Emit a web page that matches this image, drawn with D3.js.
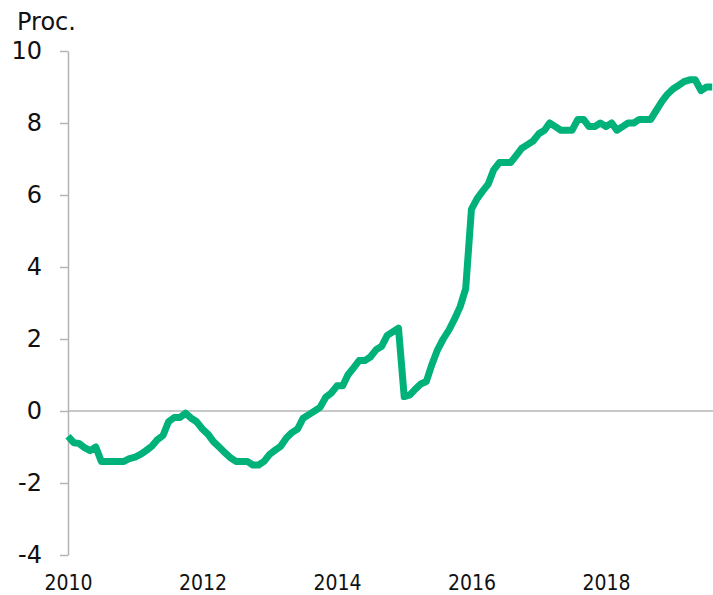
<!DOCTYPE html>
<html>
<head>
<meta charset="utf-8">
<script src="https://cdn.jsdelivr.net/npm/d3@7"></script>
<style>
  html, body { margin: 0; padding: 0; background: #fff; }
  svg { display: block; }
</style>
</head>
<body>
<svg id="chart" width="713" height="595"></svg>
<script>
// Monthly values, Jan 2010 .. Aug 2019 (percent)
const startYear = 2010;
const values2010 = [-0.7, -0.88, -0.9, -1.02, -1.1, -1.0, -1.4, -1.4, -1.4, -1.4, -1.4, -1.32];
const values2011 = [-1.28, -1.2, -1.1, -0.98, -0.8, -0.68, -0.3, -0.18, -0.18, -0.06, -0.2, -0.3];
const values2012 = [-0.5, -0.65, -0.85, -1.0, -1.15, -1.3, -1.4, -1.4, -1.4, -1.5, -1.5, -1.4];
const values2013 = [-1.2, -1.08, -0.98, -0.75, -0.6, -0.5, -0.2, -0.1, 0.0, 0.1, 0.38, 0.5];
const values2014 = [0.7, 0.7, 1.0, 1.2, 1.4, 1.4, 1.5, 1.7, 1.8, 2.1, 2.2, 2.3];
const values2015 = [0.4, 0.45, 0.6, 0.75, 0.82, 1.3, 1.7, 2.0, 2.25, 2.55, 2.9, 3.4];
const values2016 = [5.6, 5.9, 6.1, 6.3, 6.7, 6.9, 6.9, 6.9, 7.1, 7.3, 7.4, 7.5];
const values2017 = [7.7, 7.8, 8.0, 7.9, 7.8, 7.8, 7.8, 8.1, 8.1, 7.9, 7.9, 8.0];
const values2018 = [7.9, 8.0, 7.8, 7.9, 8.0, 8.0, 8.1, 8.1, 8.1, 8.35, 8.6, 8.8];
const values2019 = [8.95, 9.05, 9.15, 9.2, 9.2, 8.9, 9.0, 9.0];

const yTicks = [-4, -2, 0, 2, 4, 6, 8, 10];
const yTickLabels = ["-4", "-2", "0", "2", "4", "6", "8", "10"];
const xTickYears = [2010, 2012, 2014, 2016, 2018];
const unitLabel = "Proc.";

const allValues = [].concat(values2010, values2011, values2012, values2013, values2014,
  values2015, values2016, values2017, values2018, values2019);
const data = allValues.map((v, i) => ({ date: new Date(startYear, i, 1), value: v }));

const svg = d3.select("#chart");

const x = d3.scaleTime()
  .domain([new Date(2010, 0, 1), new Date(2018, 0, 1)])
  .range([68, 606]);
const y = d3.scaleLinear().domain([-4, 10]).range([555, 51]);

const grey = "#b4b4b4";

// zero line
svg.append("line")
  .attr("x1", 68).attr("x2", 713)
  .attr("y1", y(0)).attr("y2", y(0))
  .attr("stroke", grey).attr("stroke-width", 1.5);

// y axis
const yAxis = d3.axisLeft(y).tickValues(yTicks).tickSize(8).tickSizeOuter(0).tickPadding(18)
  .tickFormat((d, i) => yTickLabels[i]);
const gy = svg.append("g").attr("transform", "translate(68,0)").call(yAxis);
gy.select(".domain").attr("stroke", grey).attr("stroke-width", 1.5);
gy.selectAll(".tick line").attr("stroke", grey).attr("stroke-width", 1.5);
gy.selectAll(".tick text")
  .attr("font-family", "'DejaVu Sans', Verdana, sans-serif")
  .attr("font-size", 24).attr("fill", "#111");

// x axis labels
const xAxis = d3.axisBottom(x)
  .tickValues(xTickYears.map(yr => new Date(yr, 0, 1)))
  .tickSize(0).tickPadding(5)
  .tickFormat(d3.timeFormat("%Y"));
const gx = svg.append("g").attr("transform", "translate(0,570)").call(xAxis);
gx.select(".domain").remove();
gx.selectAll(".tick text")
  .attr("font-family", "'DejaVu Sans Condensed', 'DejaVu Sans', sans-serif")
  .attr("font-stretch", "condensed")
  .attr("font-size", 21).attr("fill", "#111");

// unit label
svg.append("text")
  .attr("x", 17).attr("y", 30)
  .attr("font-family", "'DejaVu Sans', Verdana, sans-serif")
  .attr("font-size", 24).attr("fill", "#111")
  .text(unitLabel);

// line
const line = d3.line().x(d => x(d.date)).y(d => y(d.value));
svg.append("path")
  .datum(data)
  .attr("d", line)
  .attr("fill", "none")
  .attr("stroke", "#00b27a")
  .attr("stroke-width", 7)
  .attr("stroke-linejoin", "round")
  .attr("stroke-linecap", "butt");
</script>
</body>
</html>
